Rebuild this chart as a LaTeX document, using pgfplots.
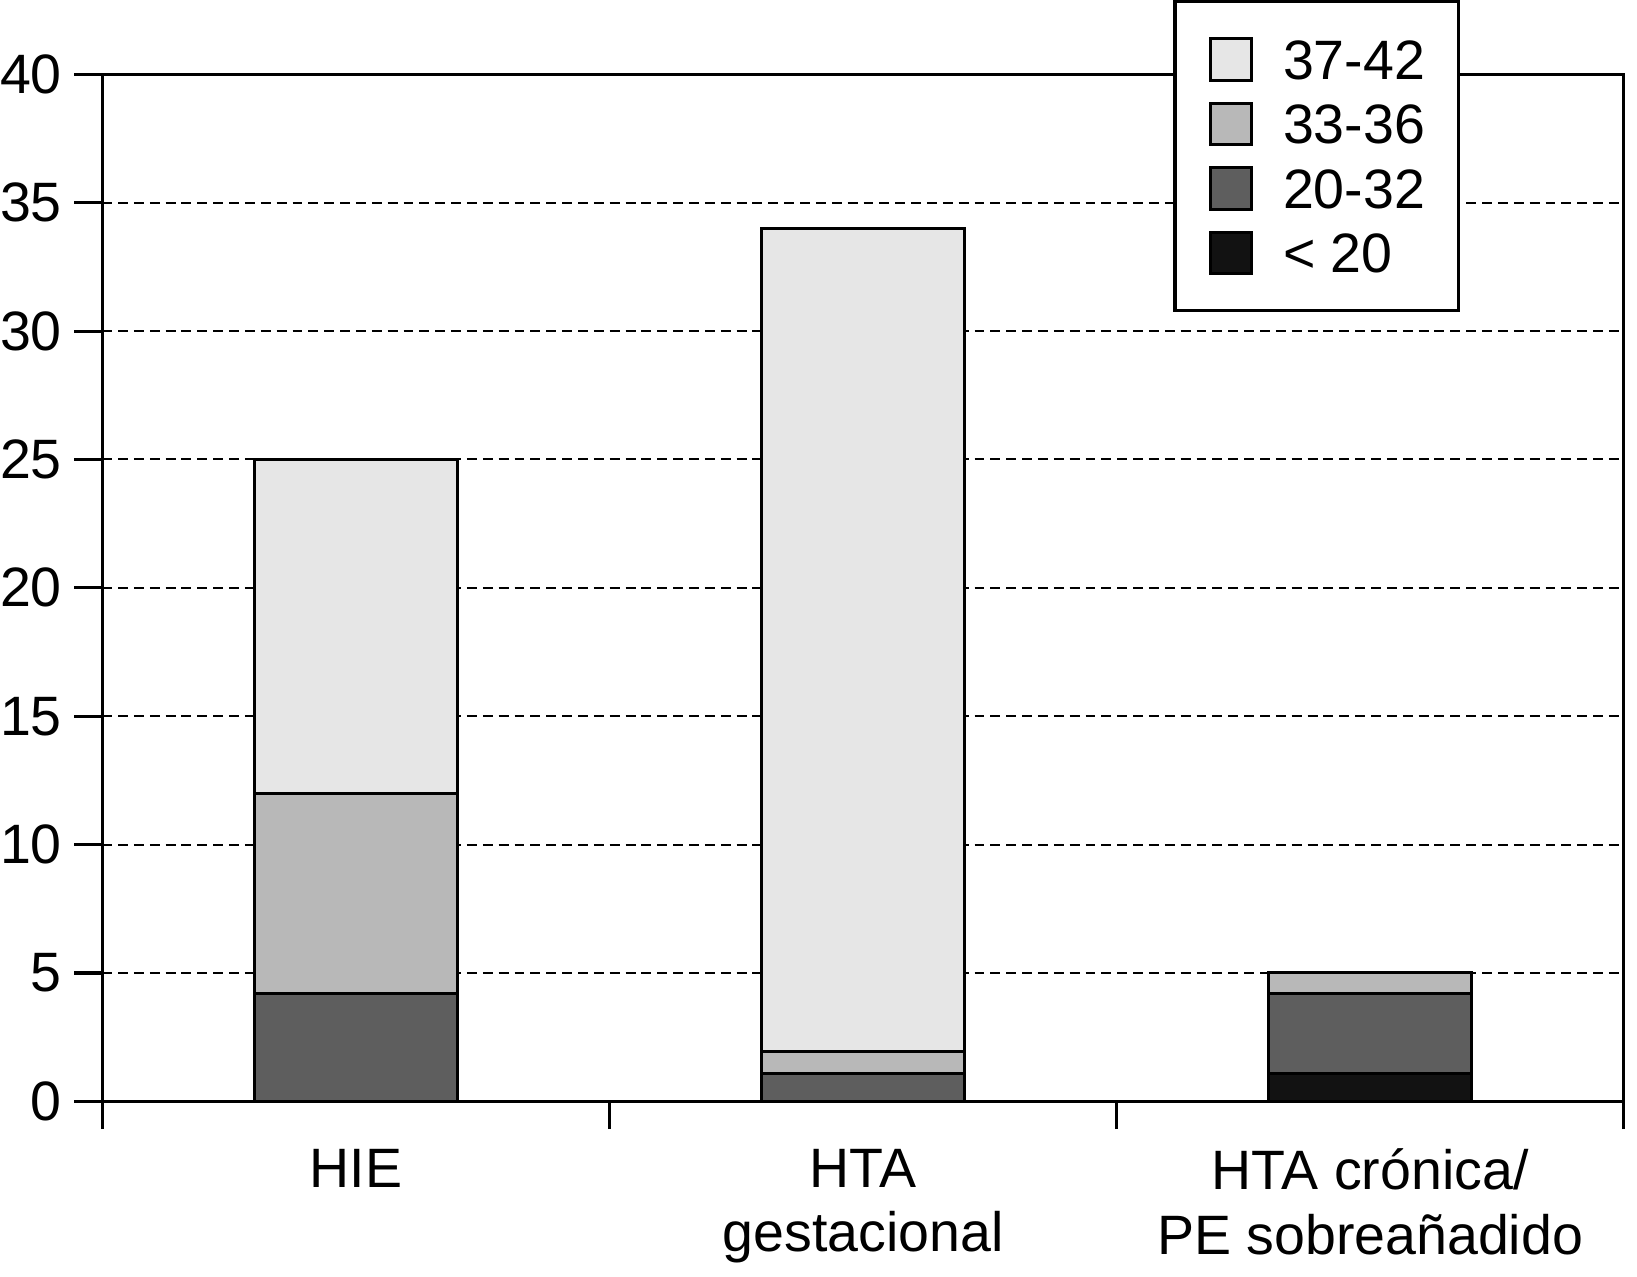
\documentclass[border=0pt]{standalone}
\usepackage{pgfplots}
\pgfplotsset{compat=1.18}
\usepackage{fontspec}
\setmainfont{Liberation Sans}

\definecolor{gA}{HTML}{E6E6E6}
\definecolor{gB}{HTML}{B8B8B8}
\definecolor{gC}{HTML}{5E5E5E}
\definecolor{gD}{HTML}{121212}

\begin{document}
\begin{tikzpicture}
\begin{axis}[
	width = 383.75pt,
	height = 259pt,
	scale only axis,
	ybar stacked,
	bar width = 0.4,
	xmin = 0, xmax = 3,
	ymin = 0, ymax = 40,
	ytick distance = 5,
	ytick pos = left,
	xtick pos = bottom,
	tick align = outside,
	major tick length = 7pt,
	axis line style = {line width = 0.8pt},
	every tick/.style = {black, line width = 0.8pt},
	ymajorgrids,
	grid style = {black, line width = 0.5pt, dash pattern = on 2.5pt off 1.5pt},
	xtick = {0, 1, 2, 3},
	xticklabels = {},
	extra x ticks = {0.5, 1.5, 2.5},
	extra x tick labels = {HIE, HTA\\gestacional, HTA crónica/\\PE sobreañadido},
	extra x tick style = {major tick length = 0pt, grid = none},
	xticklabel style = {align = center, font = \fontsize{14}{16.25}\selectfont, yshift = -8.5pt},
	yticklabel style = {font = \fontsize{14}{16.25}\selectfont, inner xsep = 0pt, xshift = -3pt},
	/pgf/number format/assume math mode = true,
	reverse legend,
	legend cell align = left,
	legend style = {
		at = {(0.704, 1.0724)},
		anchor = north west,
		draw = black,
		line width = 0.8pt,
		fill = white,
		inner xsep = 8.5pt,
		inner ysep = 9pt,
		row sep = 5pt,
		column sep = 7.5pt,
		font = \fontsize{14}{16.25}\selectfont,
		nodes = {inner sep = 0pt, text height = 10pt, text depth = 0pt}
	},
	legend image code/.code = {
		\draw[#1, line width = 0.75pt] (0pt, -5.25pt) rectangle (10.5pt, 5.25pt);
	},
	every axis plot/.append style = {draw = black, line width = 0.75pt}
]
\addplot[fill = gD] coordinates {(0.5, 0) (1.5, 0) (2.5, 1.1)};
\addplot[fill = gC] coordinates {(0.5, 4.2) (1.5, 1.1) (2.5, 3.1)};
\addplot[fill = gB] coordinates {(0.5, 7.8) (1.5, 0.83) (2.5, 0.8)};
\addplot[fill = gA] coordinates {(0.5, 13) (1.5, 32.07) (2.5, 0)};
\legend{< 20, 20-32, 33-36, 37-42}
\end{axis}
\end{tikzpicture}
\end{document}
